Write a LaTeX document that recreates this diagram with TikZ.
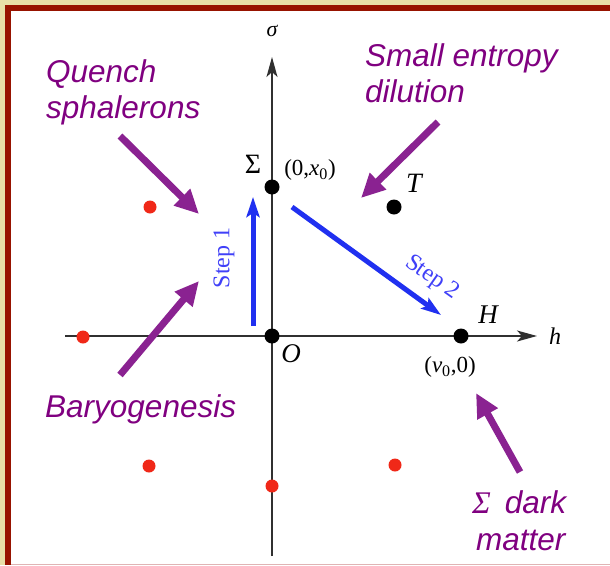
\documentclass[tikz,border=0pt]{standalone}
\usepackage{fontspec}
\setmainfont{Liberation Serif}
\newfontfamily\labelsans{Liberation Sans}
\usetikzlibrary{arrows.meta}
\definecolor{beige}{HTML}{E8DFA8}
\definecolor{framered}{HTML}{971300}
\definecolor{pinkline}{HTML}{E0B4B4}
\definecolor{pur}{HTML}{800080}
\definecolor{purarrow}{HTML}{8A2291}
\definecolor{stepblue}{HTML}{2030F0}
\definecolor{steptext}{HTML}{4040F8}
\definecolor{dotred}{HTML}{F02818}
\definecolor{axisgray}{HTML}{303030}
\begin{document}
\begin{tikzpicture}[x=1pt,y=-1pt,
  note/.style={font=\labelsans\itshape\fontsize{31.5}{36}\selectfont, text=pur, inner sep=0, anchor=base west, align=left},
  bdot/.style={circle, fill=black, minimum size=15pt, inner sep=0},
  rdot/.style={circle, fill=dotred, minimum size=13pt, inner sep=0},
  axisline/.style={draw=axisgray, line width=1.4pt, -{Stealth[length=20pt,width=11pt,inset=5pt]}},
  steparrow/.style={draw=stepblue, line width=5pt, -{Stealth[length=20pt,width=13pt,inset=4pt]}},
  purarr/.style={draw=purarrow, line width=7pt, -{Triangle[length=24pt,width=22pt]}},
  mlab/.style={font=\fontsize{28}{30}\selectfont, inner sep=0},
  clab/.style={font=\fontsize{23}{25}\selectfont, inner sep=0},
  steplab/.style={font=\fontsize{24}{26}\selectfont, text=steptext, inner sep=0}]
\useasboundingbox (0,0) rectangle (610,565);
% frame
\fill[beige] (0,0) rectangle (610,565);
\fill[framered] (5,5) rectangle (610,565);
\fill[white] (11,11) rectangle (610,565);
\draw[pinkline, line width=1pt] (11,564.5) -- (610,564.5);

% axes
\coordinate (hleft) at (65,336);
\coordinate (htip) at (537,336);
\coordinate (vbot) at (272,556);
\coordinate (vtip) at (272,57);
\draw[axisline] (hleft) -- (htip);
\draw[axisline] (vbot) -- (vtip);
\node[font=\itshape\fontsize{22}{24}\selectfont, inner sep=0] (sig) at (272,31) {σ};
\node[font=\itshape\fontsize{24}{26}\selectfont, inner sep=0] (hlab) at (555,336) {h};

% red dots
\node[rdot] (r1) at (150,207) {};
\node[rdot] (r2) at (83,337) {};
\node[rdot] (r3) at (149,466) {};
\node[rdot] (r4) at (272,486) {};
\node[rdot] (r5) at (395,465) {};

% black dots
\node[bdot] (S) at (272,187) {};
\node[bdot] (O) at (272,336) {};
\node[bdot] (H) at (461,336) {};
\node[bdot] (T) at (394,207) {};

% labels
\node[mlab] (Slab) at (253,164) {Σ};
\node[clab] (Scoord) at (310,170) {(0,\textit{x}\textsubscript{0})};
\node[mlab, font=\itshape\fontsize{28}{30}\selectfont] (Tlab) at (414,183) {T};
\node[mlab, font=\itshape\fontsize{27}{30}\selectfont] (Hlab) at (488,315) {H};
\node[clab] (Hcoord) at (450,367) {(\textit{v}\textsubscript{0},0)};
\node[mlab, font=\itshape\fontsize{27}{30}\selectfont] (Olab) at (291,354) {O};

% step arrows
\coordinate (s1a) at (253,326);
\coordinate (s1b) at (253,197);
\coordinate (s2a) at (292,207);
\coordinate (s2b) at (441,315);
\draw[steparrow] (s1a) -- (s1b);
\draw[steparrow] (s2a) -- (s2b);
\node[steplab, rotate=90] (st1) at (224,258) {Step 1};
\node[steplab, rotate=-35] (st2) at (432,278) {Step 2};

% purple annotations
\node[note] (quench) at (46,118) {Quench\\sphalerons};
\node[note] (small) at (365,102) {Small entropy\\dilution};
\node[note] (baryo) at (45,417) {Baryogenesis};
\node[note] (dm) at (472,550) {\textrm{\itshape Σ}\, dark\\[1pt]\hspace*{4pt}matter};

\coordinate (pa1) at (120,136);
\coordinate (pb1) at (199,214);
\coordinate (pa2) at (120,375);
\coordinate (pb2) at (199,281);
\coordinate (pa3) at (438,122);
\coordinate (pb3) at (361,198);
\coordinate (pa4) at (520,472);
\coordinate (pb4) at (476,393);
\draw[purarr] (pa1) -- (pb1);
\draw[purarr] (pa2) -- (pb2);
\draw[purarr] (pa3) -- (pb3);
\draw[purarr] (pa4) -- (pb4);
\end{tikzpicture}
\end{document}
